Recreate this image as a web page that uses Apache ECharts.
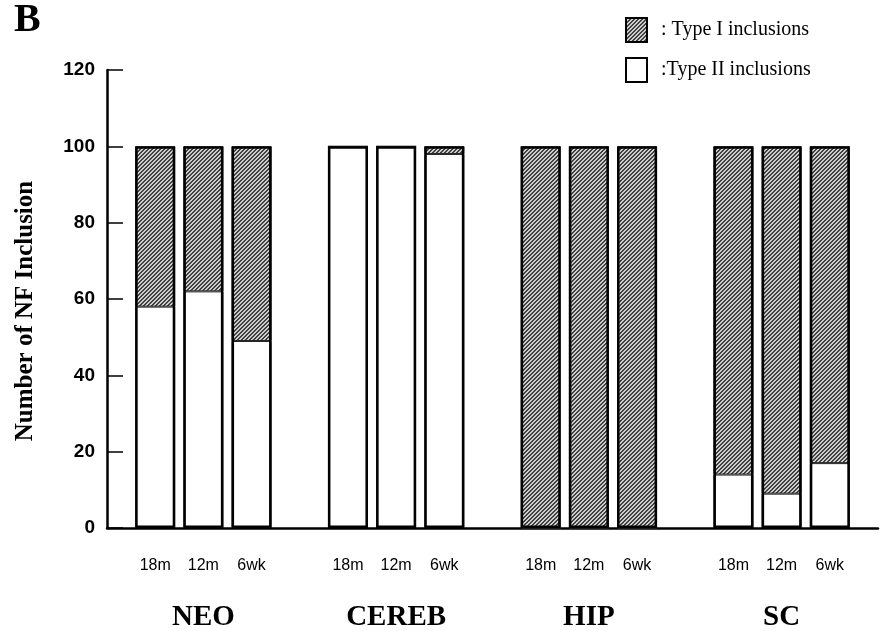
<!DOCTYPE html>
<html>
<head>
<meta charset="utf-8">
<script src="https://cdn.jsdelivr.net/npm/echarts@6/dist/echarts.min.js"></script>
<style>
  html, body { margin: 0; padding: 0; background: #fff; }
  #chart { width: 882px; height: 631px; }
</style>
</head>
<body>
<div id="chart"></div>
<script>
// slots along the x axis, empty strings are the gaps between regions
const timeLabels = ['', '18m', '12m', '6wk', '', '18m', '12m', '6wk', '', '18m', '12m', '6wk', '', '18m', '12m', '6wk', '']
const groupLabels = ['', '', 'NEO', '', '', '', 'CEREB', '', '', '', 'HIP', '', '', '', 'SC', '', '']

// NEO, CEREB, HIP, SC  x  18m, 12m, 6wk
const typeII = [58, 62, 49, 100, 100, 98, 0, 0, 0, 14, 9, 17]
const typeI = [42, 38, 51, 0, 0, 2, 100, 100, 100, 86, 91, 83]

const yTicks = { min: 0, max: 120, interval: 20 }

// put the 12 bar values into the 17 slots
function toSlots(vals) {
  const out = []
  let k = 0
  for (let i = 0; i < timeLabels.length; i++) {
    if (timeLabels[i] === '') {
      out.push('-')
    } else {
      out.push(vals[k++])
    }
  }
  return out
}

// hatch tile: thin dark diagonals on light grey
function hatchTile() {
  const c = document.createElement('canvas')
  c.width = 4
  c.height = 4
  const ctx = c.getContext('2d')
  const img = ctx.createImageData(4, 4)
  for (let y = 0; y < 4; y++) {
    for (let x = 0; x < 4; x++) {
      const dark = ((x + y) % 4) < 2
      const v = dark ? 65 : 205
      const p = (y * 4 + x) * 4
      img.data[p] = v
      img.data[p + 1] = v
      img.data[p + 2] = v
      img.data[p + 3] = 255
    }
  }
  ctx.putImageData(img, 0, 0)
  return c
}

const hatch = { image: hatchTile(), repeat: 'repeat' }
const totals = typeI.map((v, i) => v + typeII[i])

const chart = echarts.init(document.getElementById('chart'))
chart.setOption({
  animation: false,
  backgroundColor: '#fff',
  title: {
    text: 'B',
    left: 14,
    top: 1,
    padding: 0,
    textStyle: {
      fontFamily: 'Liberation Serif',
      fontWeight: 'bold',
      fontSize: 40,
      color: '#000'
    }
  },
  legend: {
    data: ['Type I inclusions', 'Type II inclusions'],
    orient: 'vertical',
    left: 620,
    top: 12,
    itemWidth: 21,
    itemHeight: 24,
    itemGap: 14,
    icon: 'rect',
    selectedMode: false,
    formatter: function(name) {
      return name === 'Type I inclusions' ? ': ' + name : ':' + name
    },
    itemStyle: {
      borderColor: '#000',
      borderWidth: 2
    },
    textStyle: {
      fontFamily: 'Liberation Serif',
      fontSize: 20,
      color: '#000',
      padding: [5, 0, 0, 9]
    }
  },
  grid: {
    left: 107,
    right: 4,
    top: 70,
    bottom: 103,
    containLabel: false,
    outerBoundsMode: 'none'
  },
  xAxis: [
    {
      type: 'category',
      data: timeLabels,
      boundaryGap: false,
      axisLine: { lineStyle: { color: '#000', width: 2.5 } },
      axisTick: { show: false },
      splitLine: { show: false },
      axisLabel: {
        interval: 0,
        margin: 30,
        color: '#000',
        fontFamily: 'Liberation Sans',
        fontSize: 16
      }
    },
    {
      type: 'category',
      data: groupLabels,
      boundaryGap: false,
      position: 'bottom',
      axisLine: { show: false },
      axisTick: { show: false },
      splitLine: { show: false },
      axisLabel: {
        interval: 0,
        margin: 75,
        color: '#000',
        fontFamily: 'Liberation Serif',
        fontWeight: 'bold',
        fontSize: 29
      }
    }
  ],
  yAxis: {
    type: 'value',
    min: yTicks.min,
    max: yTicks.max,
    interval: yTicks.interval,
    name: 'Number of NF Inclusion',
    nameLocation: 'middle',
    nameGap: 69,
    nameTextStyle: {
      fontFamily: 'Liberation Serif',
      fontWeight: 'bold',
      fontSize: 25,
      color: '#000',
      padding: [0, 24, 0, 0]
    },
    axisLine: { show: true, lineStyle: { color: '#000', width: 2.5 } },
    axisTick: { show: true, inside: true, length: 16, lineStyle: { color: '#000', width: 1.5 } },
    splitLine: { show: false },
    axisLabel: {
      margin: 12,
      color: '#000',
      fontFamily: 'Liberation Sans',
      fontWeight: 'bold',
      fontSize: 19
    }
  },
  series: [
    {
      name: 'Type II inclusions',
      type: 'bar',
      stack: 'inc',
      barWidth: 40,
      data: toSlots(typeII),
      itemStyle: { color: '#fff', borderColor: '#222', borderWidth: 1 }
    },
    {
      name: 'Type I inclusions',
      type: 'bar',
      stack: 'inc',
      barWidth: 40,
      data: toSlots(typeI),
      itemStyle: { color: hatch, borderColor: '#222', borderWidth: 1 }
    },
    {
      name: 'outline',
      type: 'bar',
      barWidth: 40,
      barGap: '-100%',
      data: toSlots(totals),
      silent: true,
      itemStyle: { color: 'rgba(0,0,0,0)', borderColor: '#000', borderWidth: 2.5 }
    }
  ]
})
</script>
</body>
</html>
